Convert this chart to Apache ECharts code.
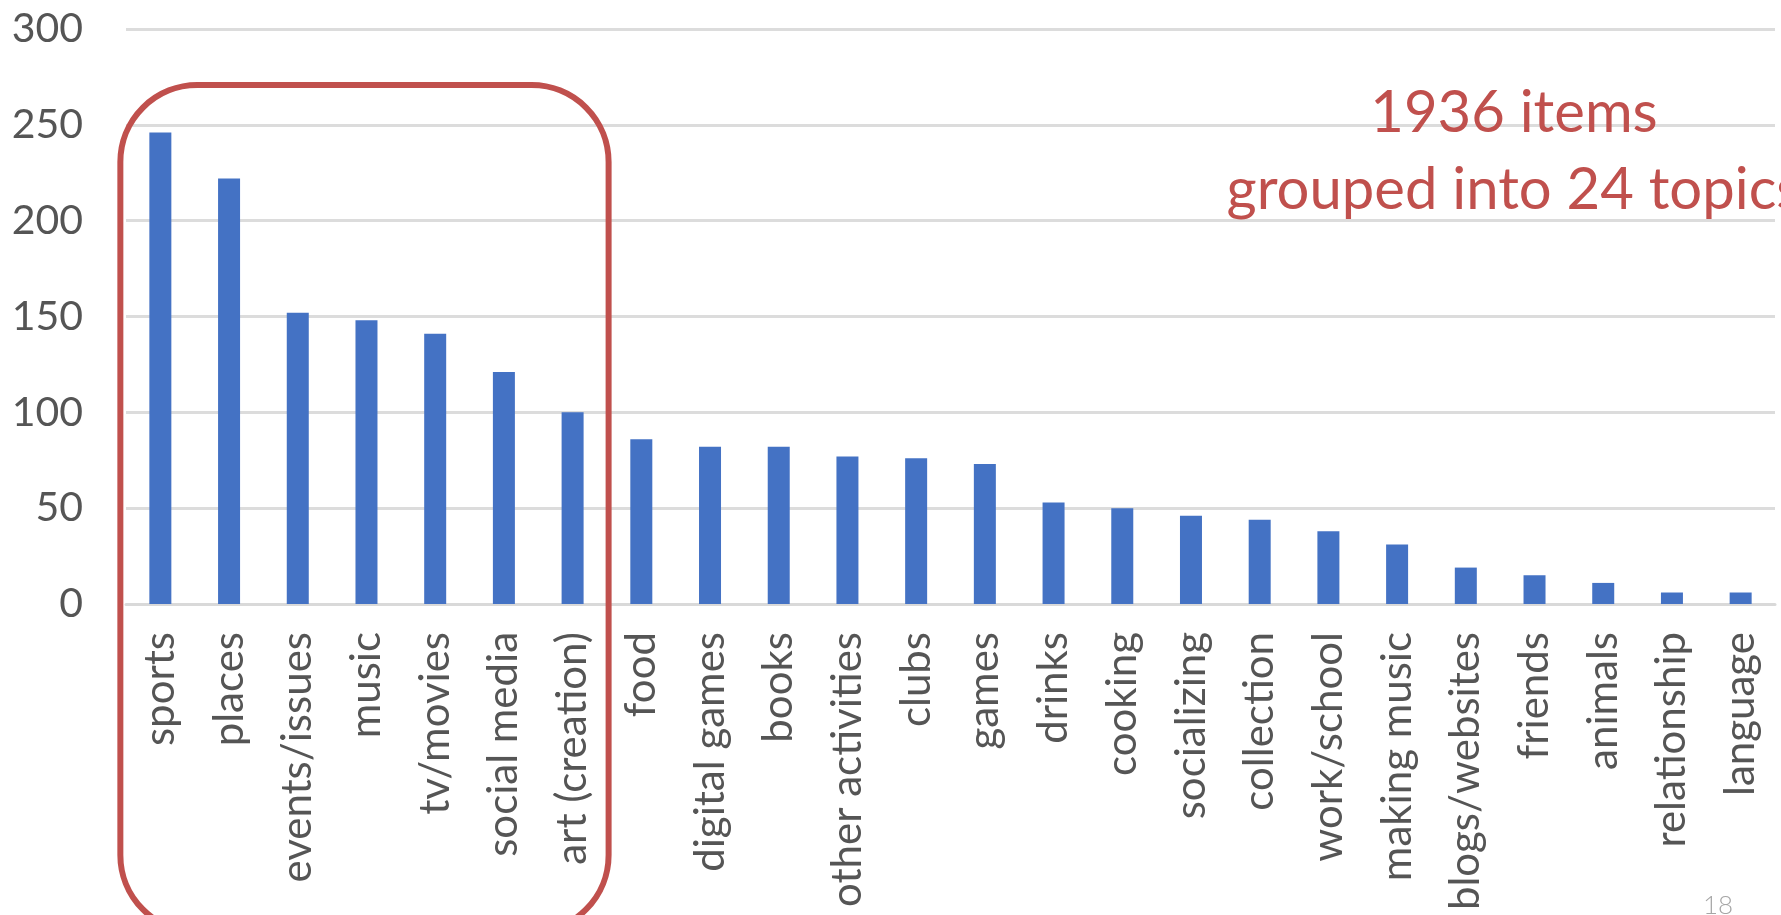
<!DOCTYPE html>
<html>
<head>
<meta charset="utf-8">
<script src="https://cdn.jsdelivr.net/npm/echarts@6/dist/echarts.min.js"></script>
<style>
  html, body { margin: 0; padding: 0; background: #fff; overflow: hidden; }
  #chart { width: 1781px; height: 915px; }
</style>
</head>
<body>
<div id="chart"></div>
<script>
const categories = ['sports', 'places', 'events/issues', 'music', 'tv/movies', 'social media', 'art (creation)',
  'food', 'digital games', 'books', 'other activities', 'clubs', 'games', 'drinks', 'cooking',
  'socializing', 'collection', 'work/school', 'making music', 'blogs/websites', 'friends',
  'animals', 'relationship', 'language'];
const counts = [246, 222, 152, 148, 141, 121, 100, 86, 82, 82, 77, 76, 73, 53, 50, 46, 44, 38, 31, 19, 15, 11, 6, 6];
const yTicks = [0, 50, 100, 150, 200, 250, 300];
const annotationLines = ['1936 items', 'grouped into 24 topics'];
const highlightFirst = 0;
const highlightLast = 6;
const pageNumber = '18';

const FONT = 'Lato, "Open Sans", sans-serif';
const RED = '#C0504D';

const chart = echarts.init(document.getElementById('chart'), null, { renderer: 'canvas' });

const option = {
  animation: false,
  backgroundColor: '#ffffff',
  grid: { left: 126, right: 6, top: 29, bottom: 311, containLabel: false },
  xAxis: {
    type: 'category',
    data: categories,
    axisLine: { show: true, lineStyle: { color: '#d9d9d9', width: 3 } },
    axisTick: { show: false },
    axisLabel: {
      rotate: 90,
      interval: 0,
      margin: 28,
      color: '#555555',
      fontFamily: FONT,
      fontSize: 42
    }
  },
  yAxis: {
    type: 'value',
    min: yTicks[0],
    max: yTicks[yTicks.length - 1],
    interval: yTicks[1] - yTicks[0],
    axisLine: { show: false },
    axisTick: { show: false },
    splitLine: { lineStyle: { color: '#dcdcdc', width: 3 } },
    axisLabel: {
      margin: 43,
      color: '#555555',
      fontFamily: FONT,
      fontSize: 41
    }
  },
  series: [{
    type: 'bar',
    data: counts,
    barWidth: 22,
    itemStyle: { color: '#4472C4' }
  }]
};
chart.setOption(option);

const xL = chart.convertToPixel({ xAxisIndex: 0 }, highlightFirst) - 40;
const xR = chart.convertToPixel({ xAxisIndex: 0 }, highlightLast) + 36;
const yTop = 85;

chart.setOption({
  graphic: [
    {
      type: 'rect',
      shape: { x: xL, y: yTop, width: xR - xL, height: 932 - yTop, r: 77 },
      style: { fill: 'none', stroke: RED, lineWidth: 6 },
      z: 100
    },
    {
      type: 'text',
      x: 1514,
      y: 75,
      style: {
        text: annotationLines.join('\n'),
        fill: RED,
        fontFamily: FONT,
        fontSize: 58,
        lineHeight: 77,
        align: 'center',
        verticalAlign: 'top'
      },
      z: 100
    },
    {
      type: 'text',
      x: 1703,
      y: 893,
      style: {
        text: pageNumber,
        fill: '#a6a6a6',
        fontFamily: FONT,
        fontWeight: 300,
        fontSize: 26,
        align: 'left',
        verticalAlign: 'top'
      },
      z: 100
    }
  ]
});
</script>
</body>
</html>
